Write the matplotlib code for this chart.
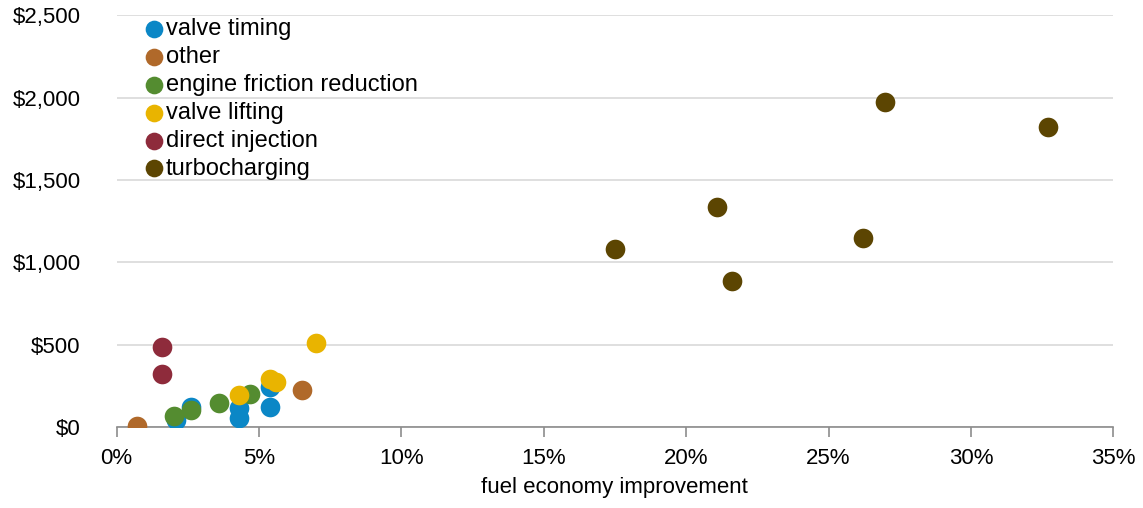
import matplotlib.pyplot as plt
from matplotlib.ticker import FuncFormatter

# Data (fuel economy improvement %, cost $)
vt_x = [2.1, 2.6, 4.3, 4.3, 5.4, 5.4]
vt_y = [45, 120, 55, 115, 120, 245]
other_x = [0.7, 6.5]
other_y = [8, 225]
efr_x = [2.0, 2.6, 3.6, 4.7]
efr_y = [70, 105, 145, 200]
vl_x = [4.3, 5.4, 5.6, 7.0]
vl_y = [195, 290, 275, 510]
di_x = [1.6, 1.6]
di_y = [485, 325]
tc_x = [17.5, 21.1, 21.6, 26.2, 27.0, 32.7]
tc_y = [1080, 1335, 885, 1150, 1975, 1820]

series = [
    ("valve timing", vt_x, vt_y, "#0b87c6"),
    ("other", other_x, other_y, "#b0692a"),
    ("engine friction reduction", efr_x, efr_y, "#548c30"),
    ("valve lifting", vl_x, vl_y, "#e9b400"),
    ("direct injection", di_x, di_y, "#8e2b3b"),
    ("turbocharging", tc_x, tc_y, "#5c4502"),
]

plt.rcParams['font.family'] = ['Liberation Sans', 'DejaVu Sans']

fig = plt.figure(figsize=(11.43, 5.08), dpi=100)
ax = fig.add_axes([0.102, 0.159, 0.872, 0.811])

for name, xs, ys, c in series:
    ax.scatter(xs, ys, s=200, color=c, label=name, zorder=3, linewidths=0)

ax.set_xlim(0, 35)
ax.set_ylim(0, 2500)
ax.set_xticks(range(0, 36, 5))
ax.set_yticks(range(0, 2501, 500))
ax.xaxis.set_major_formatter(FuncFormatter(lambda v, p: f"{v:.0f}%"))
ax.yaxis.set_major_formatter(FuncFormatter(lambda v, p: f"${v:,.0f}"))
ax.yaxis.grid(True, color="#d9d9d9", linewidth=1.2)
ax.set_axisbelow(True)
for s in ["top", "right", "left"]:
    ax.spines[s].set_visible(False)
ax.spines["bottom"].set_color("#8c8c8c")
ax.spines["bottom"].set_linewidth(1.2)
ax.spines["bottom"].set_zorder(1)
ax.tick_params(axis="x", length=7, width=1.2, color="#8c8c8c", labelsize=16, pad=8)
ax.tick_params(axis="y", length=0, labelsize=16, pad=26)
ax.set_xlabel("fuel economy improvement", fontsize=16, labelpad=6)

leg = ax.legend(loc="upper left", bbox_to_anchor=(0.016, 1.016), frameon=False,
                fontsize=17, handletextpad=0.0, labelspacing=0.25,
                borderaxespad=0, markerscale=0.9, handlelength=1.0)

fig.savefig("out.png", dpi=100)
